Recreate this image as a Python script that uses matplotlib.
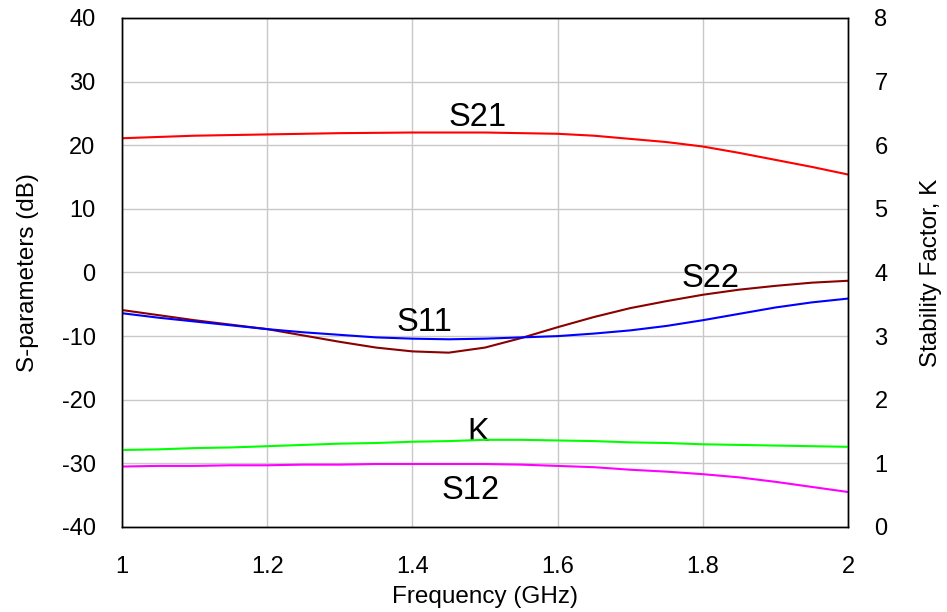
import matplotlib
matplotlib.use("Agg")
import matplotlib.pyplot as plt

plt.rcParams['font.family'] = ['Liberation Sans', 'DejaVu Sans']
plt.rcParams['axes.unicode_minus'] = False

freq = [1.0, 1.05, 1.1, 1.15, 1.2, 1.25, 1.3, 1.35, 1.4, 1.45, 1.5, 1.55, 1.6, 1.65, 1.7, 1.75, 1.8, 1.85, 1.9, 1.95, 2.0]
s21 = [21.1, 21.3, 21.5, 21.6, 21.7, 21.8, 21.9, 21.95, 22.0, 22.0, 22.0, 21.9, 21.8, 21.5, 21.0, 20.5, 19.8, 18.8, 17.7, 16.6, 15.4]
s22 = [-5.9, -6.7, -7.5, -8.2, -8.9, -9.9, -10.9, -11.8, -12.4, -12.6, -11.8, -10.3, -8.6, -7.0, -5.6, -4.5, -3.5, -2.7, -2.1, -1.6, -1.3]
s11 = [-6.4, -7.1, -7.7, -8.3, -8.9, -9.4, -9.8, -10.2, -10.4, -10.5, -10.4, -10.2, -10.0, -9.6, -9.1, -8.4, -7.5, -6.5, -5.5, -4.7, -4.1]
s12 = [-30.5, -30.4, -30.4, -30.3, -30.3, -30.2, -30.2, -30.1, -30.1, -30.1, -30.1, -30.2, -30.4, -30.6, -31.0, -31.3, -31.7, -32.2, -32.9, -33.7, -34.5]
k_factor = [1.21, 1.22, 1.24, 1.25, 1.27, 1.29, 1.31, 1.32, 1.34, 1.35, 1.37, 1.37, 1.36, 1.35, 1.33, 1.32, 1.30, 1.29, 1.28, 1.27, 1.26]

x_ticks = [1, 1.2, 1.4, 1.6, 1.8, 2]
x_ticklabels = ['1', '1.2', '1.4', '1.6', '1.8', '2']
y_ticks = [-40, -30, -20, -10, 0, 10, 20, 30, 40]
k_ticks = [0, 1, 2, 3, 4, 5, 6, 7, 8]

fig = plt.figure(figsize=(9.47, 6.12), dpi=100)
ax = fig.add_axes([0.1288, 0.1389, 0.7667, 0.8317])
ax2 = ax.twinx()

ax.plot(freq, s21, color='#ff0000', lw=1.5)
ax.plot(freq, s22, color='#8b0000', lw=1.5)
ax.plot(freq, s11, color='#0000ff', lw=1.5)
ax.plot(freq, s12, color='#ff00ff', lw=1.5)
ax2.plot(freq, k_factor, color='#00ff00', lw=1.5)

ax.set_xlim(1, 2)
ax.set_ylim(-40, 40)
ax2.set_ylim(0, 8)
ax.set_xticks(x_ticks)
ax.set_xticklabels(x_ticklabels)
ax.set_yticks(y_ticks)
ax2.set_yticks(k_ticks)
ax.grid(True, color='#c8c8c8', lw=1)
ax.tick_params(axis='y', length=0, labelsize=17, pad=19)
ax.tick_params(axis='x', length=0, labelsize=17, pad=21)
ax2.tick_params(length=0, labelsize=17, pad=19)
for sp in list(ax.spines.values()) + list(ax2.spines.values()):
    sp.set_color('black')
    sp.set_linewidth(1)

ax.set_xlabel('Frequency (GHz)', fontsize=17.5, labelpad=6)
ax.set_ylabel('S-parameters (dB)', fontsize=17.5, labelpad=16)
ax2.set_ylabel('Stability Factor, K', fontsize=17.5, labelpad=23)

ax.text(1.49, 24.3, 'S21', fontsize=23.5, ha='center', va='center')
ax.text(1.81, -0.9, 'S22', fontsize=23.5, ha='center', va='center')
ax.text(1.416, -7.9, 'S11', fontsize=23.5, ha='center', va='center')
ax.text(1.49, -25.1, 'K', fontsize=23.5, ha='center', va='center')
ax.text(1.48, -34.2, 'S12', fontsize=23.5, ha='center', va='center')

fig.savefig('out.png', dpi=100)
